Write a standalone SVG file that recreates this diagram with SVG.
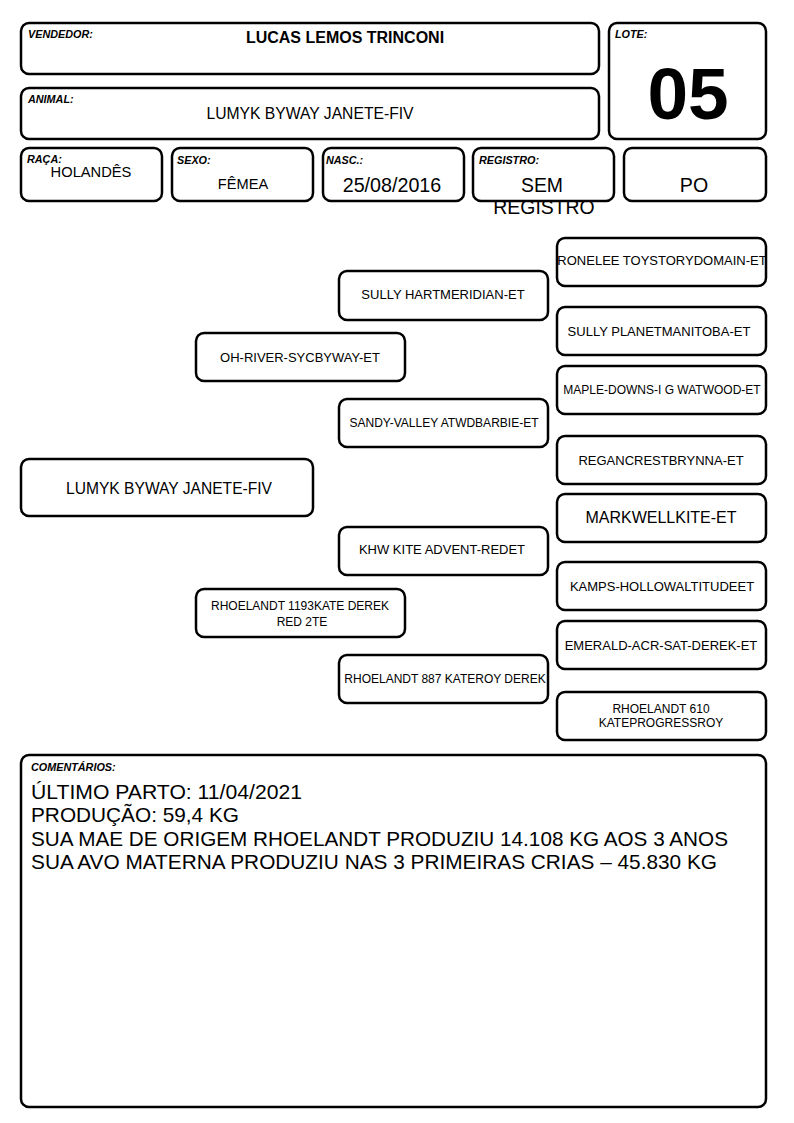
<svg xmlns="http://www.w3.org/2000/svg" width="794" height="1123" viewBox="0 0 794 1123">
<style>
.b{fill:#fff;stroke:#000;stroke-width:2.5}
.l{font-family:"Liberation Sans",Arial,sans-serif;font-size:10.8px;font-weight:bold;font-style:italic}
.t{font-family:"Liberation Sans",Arial,sans-serif;text-anchor:middle}
.n{font-family:"Liberation Sans",Arial,sans-serif;text-anchor:middle;font-size:12px}
.m{font-family:"Liberation Sans",Arial,sans-serif;text-anchor:middle;font-size:13px}
.c{font-family:"Liberation Sans",Arial,sans-serif;font-size:21px}
</style>
<rect width="794" height="1123" fill="#fff"/>
<g id="vendedor"><rect class="b" x="21" y="23" width="578" height="51" rx="8"/><text class="l" x="28" y="38">VENDEDOR:</text><text class="t" x="345" y="43" font-size="16" font-weight="bold">LUCAS LEMOS TRINCONI</text></g>
<g id="lote"><rect class="b" x="609" y="23" width="157" height="116" rx="8"/><text class="l" x="615" y="38">LOTE:</text><text class="t" x="688" y="119" font-size="73" font-weight="bold">05</text></g>
<g id="animal"><rect class="b" x="21" y="88" width="578" height="51" rx="8"/><text class="l" x="28" y="103">ANIMAL:</text><text class="t" x="310" y="119" font-size="15.7">LUMYK BYWAY JANETE-FIV</text></g>
<g id="raca"><rect class="b" x="21" y="148" width="141" height="53" rx="8"/><text class="l" x="27" y="163">RAÇA:</text><text class="t" x="91" y="177" font-size="14.7">HOLANDÊS</text></g>
<g id="sexo"><rect class="b" x="172" y="148" width="141" height="53" rx="8"/><text class="l" x="177" y="164">SEXO:</text><text class="t" x="243" y="189" font-size="14.6">FÊMEA</text></g>
<g id="nasc"><rect class="b" x="323" y="148" width="141" height="53" rx="8"/><text class="l" x="326" y="164">NASC.:</text><text class="t" x="392" y="192" font-size="19.7">25/08/2016</text></g>
<g id="registro"><rect class="b" x="473" y="148" width="141" height="53" rx="8"/><text class="l" x="479" y="164">REGISTRO:</text><text class="t" x="542" y="192" font-size="19.4">SEM</text><text class="t" x="544" y="214" font-size="19.4">REGISTRO</text></g>
<g id="po"><rect class="b" x="624" y="148" width="142" height="53" rx="8"/><text class="t" x="694" y="192" font-size="19.6">PO</text></g>
<g id="connectors"></g>
<g id="n-main"><rect class="b" x="21" y="459" width="292" height="57" rx="8"/><text class="t" x="169" y="494" font-size="16.5" textLength="206" lengthAdjust="spacingAndGlyphs">LUMYK BYWAY JANETE-FIV</text></g>
<g id="n-ohriver"><rect class="b" x="196" y="333" width="209" height="48" rx="8"/><text class="m" x="300" y="362">OH-RIVER-SYCBYWAY-ET</text></g>
<g id="n-rho1193"><rect class="b" x="196" y="589" width="209" height="48" rx="8"/><text class="n" x="300" y="610" font-size="12.2">RHOELANDT 1193KATE DEREK</text><text class="n" x="302" y="626">RED 2TE</text></g>
<g id="n-sullyhart"><rect class="b" x="339" y="271" width="209" height="49" rx="8"/><text class="m" x="443" y="299">SULLY HARTMERIDIAN-ET</text></g>
<g id="n-sandy"><rect class="b" x="339" y="399" width="209" height="48" rx="8"/><text class="n" x="444" y="427" font-size="11.8">SANDY-VALLEY ATWDBARBIE-ET</text></g>
<g id="n-khw"><rect class="b" x="339" y="527" width="209" height="48" rx="8"/><text class="m" x="442" y="554">KHW KITE ADVENT-REDET</text></g>
<g id="n-rho887"><rect class="b" x="339" y="655" width="209" height="48" rx="8"/><text class="n" x="445" y="683">RHOELANDT 887 KATEROY DEREK</text></g>
<g id="n-ronelee"><rect class="b" x="557" y="238" width="209" height="48" rx="8"/><text class="m" x="662" y="265">RONELEE TOYSTORYDOMAIN-ET</text></g>
<g id="n-sullyplanet"><rect class="b" x="557" y="307" width="209" height="48" rx="8"/><text class="m" x="659" y="336">SULLY PLANETMANITOBA-ET</text></g>
<g id="n-maple"><rect class="b" x="557" y="366" width="209" height="48" rx="8"/><text class="n" x="662" y="394" font-size="11.8">MAPLE-DOWNS-I G WATWOOD-ET</text></g>
<g id="n-regancrest"><rect class="b" x="557" y="436" width="209" height="48" rx="8"/><text class="m" x="661" y="465">REGANCRESTBRYNNA-ET</text></g>
<g id="n-markwell"><rect class="b" x="557" y="494" width="209" height="48" rx="8"/><text class="t" x="661" y="523" font-size="16">MARKWELLKITE-ET</text></g>
<g id="n-kamps"><rect class="b" x="557" y="562" width="209" height="48" rx="8"/><text class="m" x="662" y="591">KAMPS-HOLLOWALTITUDEET</text></g>
<g id="n-emerald"><rect class="b" x="557" y="621" width="209" height="48" rx="8"/><text class="m" x="661" y="650">EMERALD-ACR-SAT-DEREK-ET</text></g>
<g id="n-rho610"><rect class="b" x="557" y="692" width="209" height="48" rx="8"/><text class="n" x="661" y="713" font-size="11.5">RHOELANDT 610</text><text class="n" x="661" y="727" font-size="11.5">KATEPROGRESSROY</text></g>
<g id="comentarios"><rect class="b" x="21" y="755" width="745" height="352" rx="8"/><text class="l" x="31" y="771">COMENTÁRIOS:</text>
<text class="c" x="31" y="799" textLength="271" lengthAdjust="spacingAndGlyphs">ÚLTIMO PARTO: 11/04/2021</text>
<text class="c" x="31" y="822" textLength="208" lengthAdjust="spacingAndGlyphs">PRODUÇÃO: 59,4 KG</text>
<text class="c" x="31" y="846" textLength="697" lengthAdjust="spacingAndGlyphs">SUA MAE DE ORIGEM RHOELANDT PRODUZIU 14.108 KG AOS 3 ANOS</text>
<text class="c" x="31" y="869" textLength="686" lengthAdjust="spacingAndGlyphs">SUA AVO MATERNA PRODUZIU NAS 3 PRIMEIRAS CRIAS – 45.830 KG</text></g>
</svg>
